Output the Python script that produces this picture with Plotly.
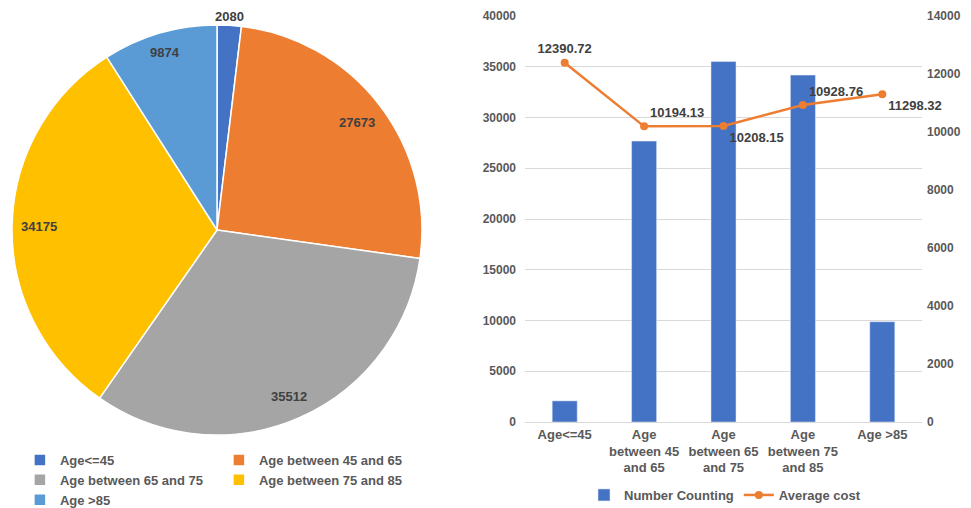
import math
import plotly.graph_objects as go

categories = ["Age<=45", "Age between 45 and 65", "Age between 65 and 75",
              "Age between 75 and 85", "Age >85"]
tick_labels = ["Age<=45", "Age<br>between 45<br>and 65", "Age<br>between 65<br>and 75",
               "Age<br>between 75<br>and 85", "Age >85"]
number_counting = [2080, 27673, 35512, 34175, 9874]
average_cost = [12390.72, 10194.13, 10208.15, 10928.76, 11298.32]

pie_colors = ["#4472C4", "#ED7D31", "#A5A5A5", "#FFC000", "#5B9BD5"]
FONT = "Liberation Sans, Arial, sans-serif"

# the page body has an 8px margin; layout is designed in page pixels
OFF = 8
W, H = 971 - OFF, 508 - OFF
L, R = 4, 0
PW = W - L - R

def px_x(p):
    return (p - OFF - L) / PW

def px_y(p):
    return 1 - (p - OFF) / H

# pie geometry (page pixels)
PIE_CX, PIE_CY, PIE_R = 217, 230, 205

fig = go.Figure()

fig.add_trace(go.Pie(
    labels=categories,
    values=number_counting,
    sort=False,
    direction="clockwise",
    rotation=0,
    marker=dict(colors=pie_colors, line=dict(color="white", width=1.5)),
    textinfo="none",
    domain=dict(x=[max(0, px_x(PIE_CX - PIE_R)), px_x(PIE_CX + PIE_R)],
                y=[px_y(PIE_CY + PIE_R), px_y(PIE_CY - PIE_R)]),
    legend="legend",
    hoverinfo="label+value",
))

# data labels for the pie, positioned from the slice angles
total = sum(number_counting)
cum = 0
label_font = dict(family=FONT, size=13, color="#404040", weight="bold")
for v in number_counting:
    mid = (cum + v / 2) / total * 2 * math.pi
    cum += v
    s, c = math.sin(mid), math.cos(mid)
    hw = len(str(v)) * 0.556 * 13 / 2
    if v / total < 0.05:
        d = PIE_R + 1.5 + abs(s) * hw + abs(c) * 7
    else:
        d = PIE_R - (6 + abs(s) * (hw + 3) + abs(c) * 10)
    fig.add_annotation(
        x=px_x(PIE_CX + d * s), y=px_y(PIE_CY - d * c),
        xref="paper", yref="paper",
        text=str(v), showarrow=False,
        xanchor="center", yanchor="middle",
        font=label_font,
    )

fig.add_trace(go.Bar(
    x=categories,
    y=number_counting,
    name="Number Counting",
    marker=dict(color="#4472C4"),
    xaxis="x", yaxis="y",
    legend="legend2",
))

fig.add_trace(go.Scatter(
    x=categories,
    y=average_cost,
    name="Average cost",
    mode="lines+markers+text",
    line=dict(color="#ED7D31", width=2.5),
    marker=dict(color="#ED7D31", size=8),
    text=[f"{v:.2f}" for v in average_cost],
    textposition=["top center", "top right", "bottom right", "top right", "bottom right"],
    textfont=dict(family=FONT, size=13, color="#404040", weight="bold"),
    xaxis="x", yaxis="y2",
    legend="legend2",
    cliponaxis=False,
))

tick_font = dict(family=FONT, size=12, color="#595959", weight="bold")

fig.update_layout(
    width=W, height=H,
    margin=dict(l=L, r=R, t=0, b=0, autoexpand=False),
    paper_bgcolor="white",
    plot_bgcolor="white",
    bargap=0.685,
    showlegend=True,
    xaxis=dict(
        domain=[px_x(525), px_x(922)],
        tickvals=categories,
        ticktext=tick_labels,
        tickfont=dict(family=FONT, size=13, color="#595959", weight="bold"),
        showline=True, linecolor="#D9D9D9", linewidth=1,
        showgrid=False, ticks="",
        anchor="y", automargin=False,
    ),
    yaxis=dict(
        domain=[px_y(422), px_y(16)],
        range=[0, 40000], dtick=5000, tickformat="d",
        showgrid=True, gridcolor="#D9D9D9", gridwidth=1,
        zeroline=False, showline=False,
        tickfont=tick_font, ticklabelstandoff=8,
        anchor="x", automargin=False,
    ),
    yaxis2=dict(
        range=[0, 14000], dtick=2000, tickformat="d",
        overlaying="y", side="right", anchor="x",
        showgrid=False, zeroline=False, showline=False,
        tickfont=tick_font, ticklabelstandoff=4,
        automargin=False,
    ),
    legend=dict(
        orientation="h",
        x=-0.0001, xanchor="left",
        y=px_y(445), yanchor="top",
        font=dict(family=FONT, size=13, color="#595959", weight="bold"),
        entrywidth=146,
        itemwidth=30,
        indentation=8,
        bgcolor="rgba(0,0,0,0)",
    ),
    legend2=dict(
        orientation="h",
        x=px_x(725), xanchor="center",
        y=px_y(480), yanchor="top",
        font=dict(family=FONT, size=13, color="#595959", weight="bold"),
        bgcolor="rgba(0,0,0,0)",
    ),
)

fig.write_html("out.html")
